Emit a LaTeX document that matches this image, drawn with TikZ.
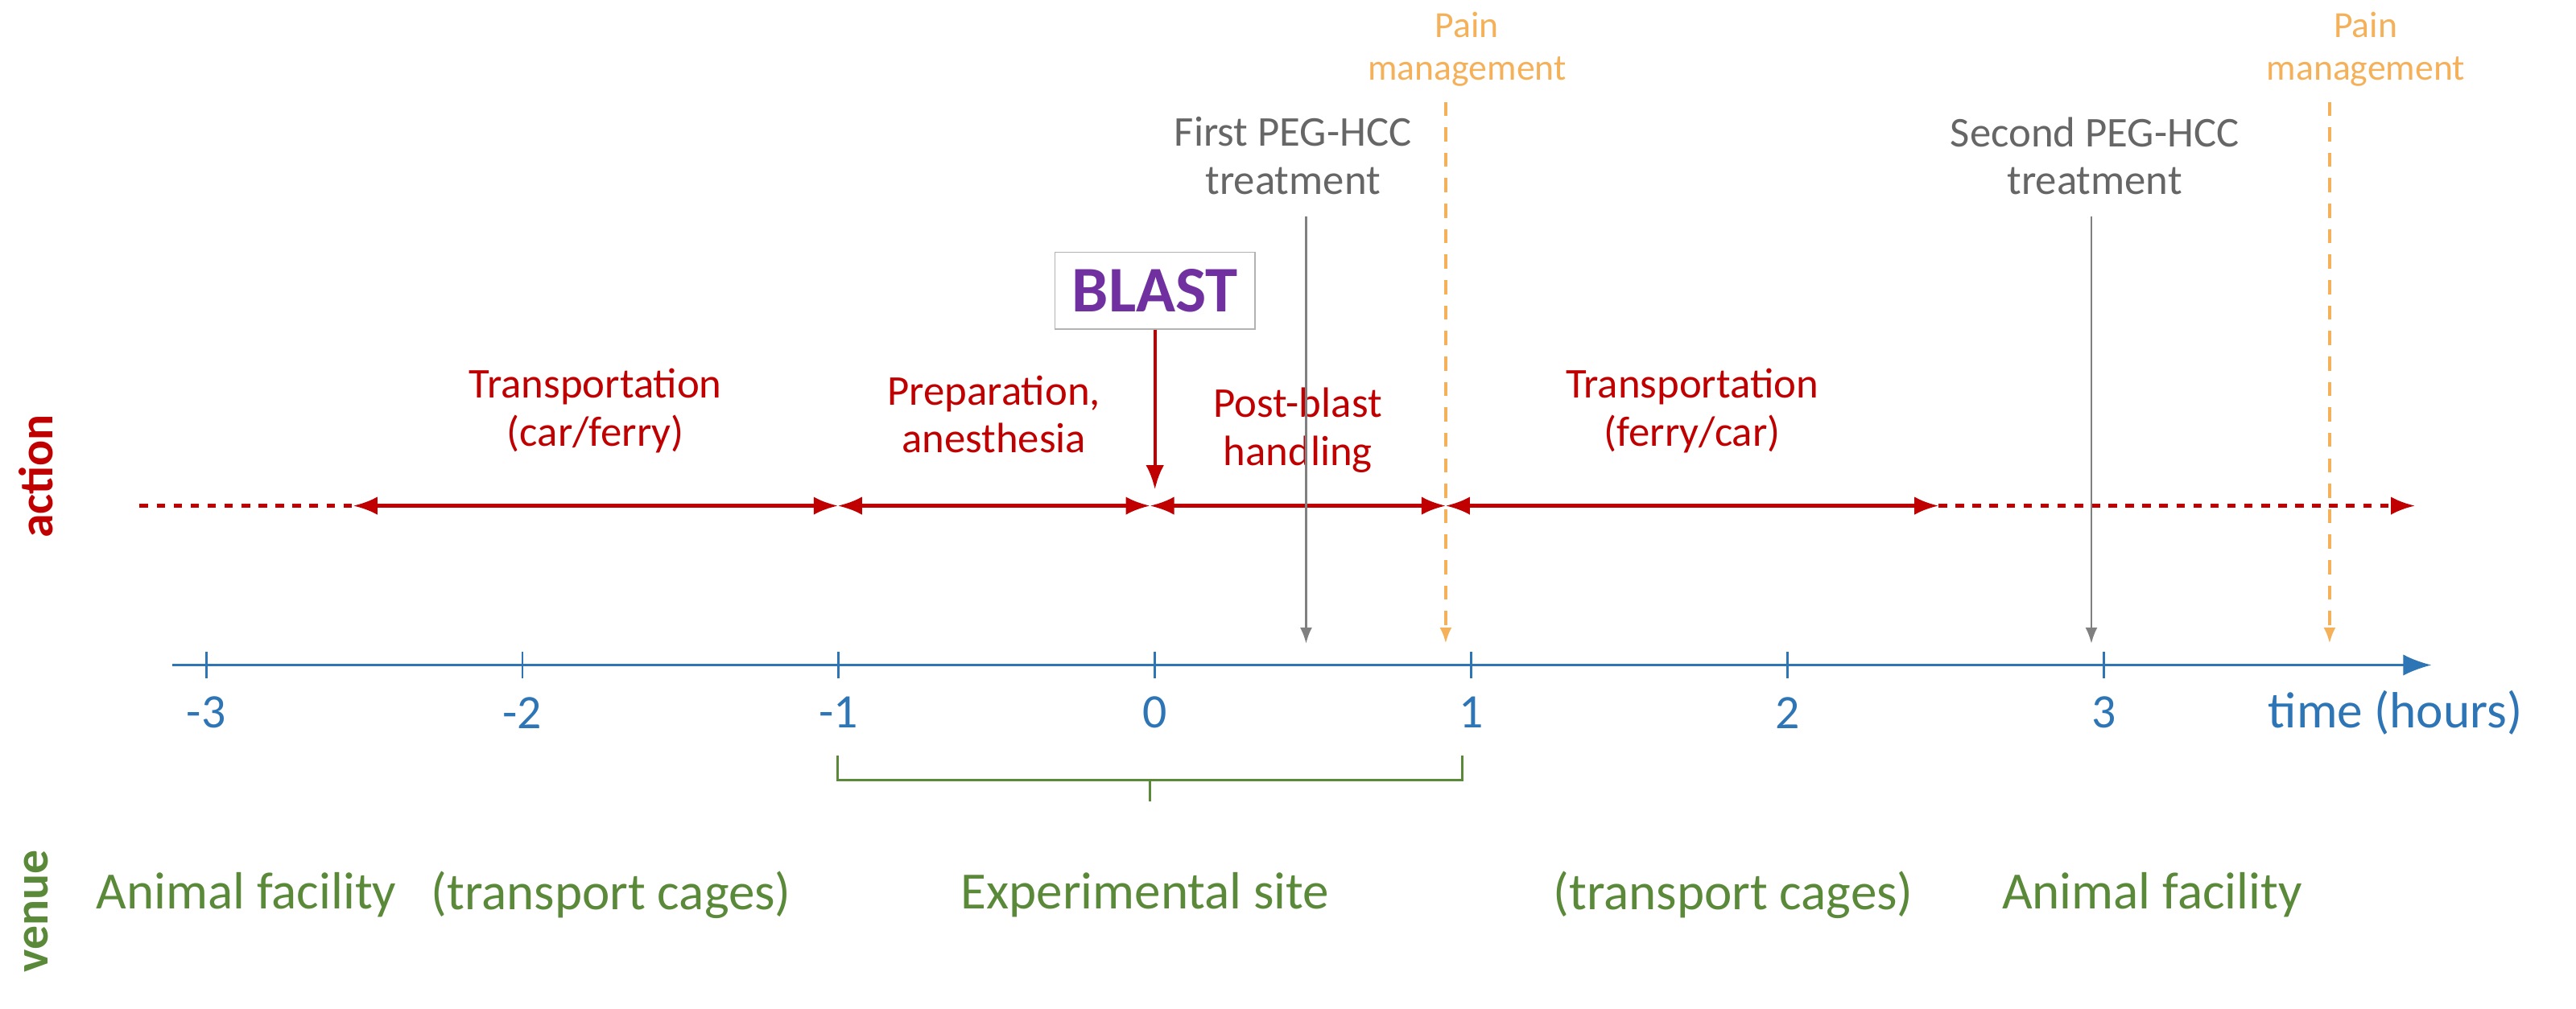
\documentclass[tikz,border=0pt]{standalone}
\usepackage{fontspec}
\setmainfont{Carlito}
\usetikzlibrary{arrows.meta,positioning,decorations.pathreplacing}
\definecolor{actred}{RGB}{192,0,0}
\definecolor{axblue}{RGB}{46,117,182}
\definecolor{vengreen}{RGB}{112,173,71}
\definecolor{painorange}{RGB}{244,177,90}
\definecolor{blastpurple}{RGB}{112,48,160}
\tikzset{
  lbl/.style={font=\fontsize{15}{17}\selectfont, align=center, inner sep=1pt},
  actlbl/.style={lbl, text=actred},
  venlbl/.style={lbl, text=vengreen!80!black, font=\fontsize{18.5}{20}\selectfont},
  seg/.style={actred, very thick, {Latex[length=3mm]}-{Latex[length=3mm]}},
  treat/.style={gray, thick, -{Latex[length=2mm]}},
  pain/.style={painorange, very thick, dash pattern=on 5pt off 4pt, -{Latex[length=2mm]}},
}
\begin{document}
\begin{tikzpicture}[x=0.020408cm, y=-0.020408cm]
\useasboundingbox (0,0) rectangle (1568,614);

%%%%%
%% time axis
%%%%%
\draw[axblue, thick, -{Latex[length=3.5mm]}] (105,405) -- (1480,405);
\foreach \h in {-3,...,3}{
  \draw[axblue, thick] ({703+192.5*\h},397) -- ({703+192.5*\h},413);
  \node[lbl, text=axblue, font=\fontsize{17}{19}\selectfont] (t\h) at ({703+192.5*\h},434) {\h};
}
\node[lbl, text=axblue, font=\fontsize{18}{20}\selectfont] (time) at (1458,434) {time (hours)};

%%%%%
%% action line
%%%%%
\coordinate (a0) at (85,308);
\coordinate (a1) at (215,308);
\coordinate (a2) at (510,308);
\coordinate (a3) at (700,308);
\coordinate (a4) at (880,308);
\coordinate (a5) at (1180,308);
\coordinate (a6) at (1470,308);
\draw[actred, very thick, dashed] (a0) -- (a1);
\draw[seg] (a1) -- (a2) node[midway, above=17pt, actlbl] (trans1) {Transportation\\(car/ferry)};
\draw[seg] (a2) -- (a3) node[midway, above=17pt, actlbl] (prep) {Preparation,\\anesthesia};
\draw[seg] (a3) -- (a4) node[midway, above=10pt, actlbl] (post) {Post-blast\\handling};
\draw[seg] (a4) -- (a5) node[midway, above=17pt, actlbl] (trans2) {Transportation\\(ferry/car)};
\draw[actred, very thick, dashed, -{Latex[length=3mm]}] (a5) -- (a6);

\node[draw=gray!60, fill=white, text=blastpurple, font=\bfseries\fontsize{23}{25}\selectfont, inner sep=6pt] (blast) at (703,177) {BLAST};
\draw[actred, very thick, -{Latex[length=3mm]}] (blast) -- (703,298);

%%%%%
%% treatments and pain management
%%%%%
\node[lbl, text=gray!80!black] (peg1) at (787,95) {First PEG-HCC\\treatment};
\coordinate (peg1end) at (795,392);
\draw[treat] (795,132) -- (peg1end);
\node[lbl, text=gray!80!black] (peg2) at (1275,95) {Second PEG-HCC\\treatment};
\coordinate (peg2end) at (1273,392);
\draw[treat] (1273,132) -- (peg2end);

\node[lbl, text=painorange, font=\fontsize{13}{15}\selectfont] (pain1) at (893,30) {Pain\\management};
\coordinate (pain1end) at (880,392);
\draw[pain] (880,62) -- (pain1end);
\node[lbl, text=painorange, font=\fontsize{13}{15}\selectfont] (pain2) at (1440,30) {Pain\\management};
\coordinate (pain2end) at (1418,392);
\draw[pain] (1418,62) -- (pain2end);

%%%%%
%% venue
%%%%%
\node[lbl, text=actred, rotate=90, font=\bfseries\fontsize{17}{19}\selectfont] (action) at (22,290) {action};
\node[lbl, text=vengreen!80!black, rotate=90, font=\bfseries\fontsize{17}{19}\selectfont] (venue) at (22,555) {venue};
\draw[vengreen!80!black, thick] (510,460) -- (510,475) -- (890,475) -- (890,460);
\draw[vengreen!80!black, thick] (700,475) -- (700,488);
\node[venlbl] (exp) at (697,545) {Experimental site};
\node[venlbl] (af1) at (150,545) {Animal facility};
\node[venlbl] (tc1) at (372,545) {(transport cages)};
\node[venlbl] (tc2) at (1055,545) {(transport cages)};
\node[venlbl] (af2) at (1310,545) {Animal facility};
\end{tikzpicture}
\end{document}
